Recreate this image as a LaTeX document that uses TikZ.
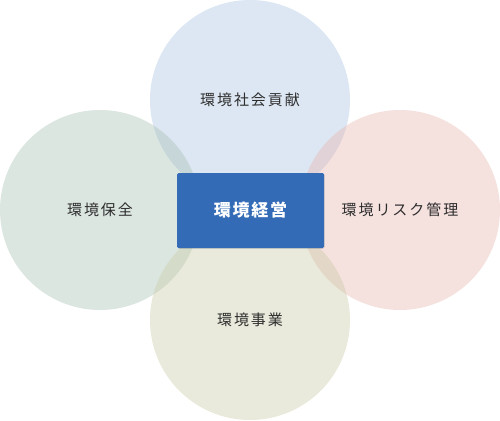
\documentclass[tikz,border=0pt]{standalone}
\usepackage{fontspec}
\setmainfont{Noto Sans CJK JP}
\newfontfamily\labelfont[LetterSpace=13]{Noto Sans CJK JP}
\newfontfamily\centerfont[LetterSpace=10]{Noto Sans CJK JP}
\usepackage{tikz}
\usepackage{xcolor}
\usetikzlibrary{positioning,shapes,shadows}
\definecolor{shakaiblue}{RGB}{170,195,225}
\definecolor{hozengreen}{RGB}{168,193,180}
\definecolor{riskred}{RGB}{230,180,173}
\definecolor{jigyoolive}{RGB}{200,202,165}
\definecolor{keieiblue}{RGB}{52,107,182}
\definecolor{labelgray}{RGB}{45,45,45}
\tikzset{%
	area/.style   = {circle, minimum size=200pt, inner sep=0pt, fill opacity=0.4, text opacity=1, text=labelgray, font=\labelfont\fontsize{15}{17}\selectfont},
	core/.style   = {draw=none, rectangle, rounded corners=1.5pt, minimum width=147pt, minimum height=75pt, fill=keieiblue, text=white, font=\centerfont\bfseries\fontsize{17}{19}\selectfont, drop shadow={opacity=0.25, shadow xshift=0.6pt, shadow yshift=-0.8pt}},
}
\begin{document}
\begin{tikzpicture}[x=1pt,y=-1pt]
		\useasboundingbox (0,0) rectangle (500,420);
		\node[area, fill=shakaiblue] (shakai) at (250,100) {環境社会貢献};
		\node[area, fill=hozengreen] (hozen) at (100,210) {環境保全};
		\node[area, fill=riskred] (risk) at (400,210) {環境リスク管理};
		\node[area, fill=jigyoolive] (jigyo) at (250,320) {環境事業};
		
		\node[core] (keiei) at (250.5,210.5) {環境経営};
	\end{tikzpicture}
\end{document}
